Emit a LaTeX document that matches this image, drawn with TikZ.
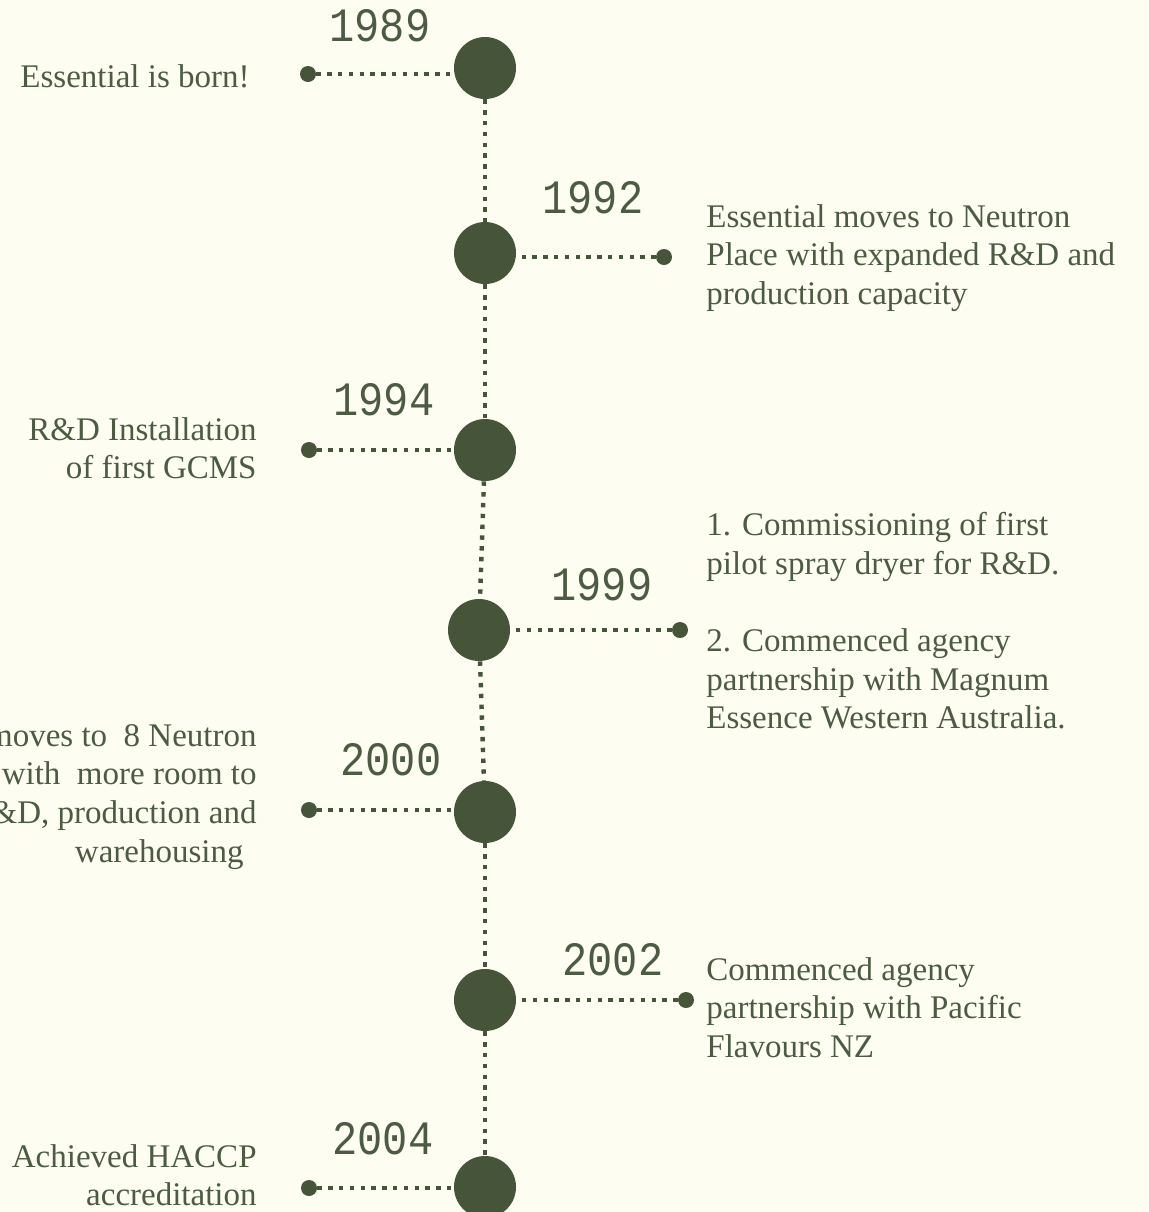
\documentclass[tikz,border=0pt]{standalone}
\usepackage{fontspec}
\setmainfont{Liberation Serif}
\setmonofont{Liberation Mono}

\definecolor{cream}{HTML}{FDFDF2}
\definecolor{olive}{HTML}{46543A}
\definecolor{inkgreen}{HTML}{4C5B42}

\newcommand{\yearnum}[1]{\scalebox{1}[1.14]{#1}}

\tikzset{
  milestone/.style={circle, fill=olive, minimum size=31pt, inner sep=0pt},
  tipdot/.style={circle, fill=olive, minimum size=8pt, inner sep=0pt},
  year/.style={font=\ttfamily\fontsize{21pt}{21pt}\selectfont, text=inkgreen, inner sep=0pt},
  note/.style={font=\fontsize{16.5pt}{19.3pt}\selectfont, text=inkgreen, inner sep=0pt},
  dotline/.style={olive, line width=2.2pt, dash pattern=on 2.2pt off 3.2pt},
}

\begin{document}
\begin{tikzpicture}[x=0.5pt, y=-0.5pt]

            \useasboundingbox (0,0) rectangle (1148,1212);
            \fill[cream] (0,0) rectangle (1148,1212);
            \clip (0,0) rectangle (1148,1212);

            % Milestones
            \node (c1) [milestone] at (485,68) {};
            \node (c2) [milestone] at (485,253) {};
            \node (c3) [milestone] at (485,450) {};
            \node (c4) [milestone] at (479,630) {};
            \node (c5) [milestone] at (485,812) {};
            \node (c6) [milestone] at (485,1000) {};
            \node (c7) [milestone] at (485,1187) {};

            % Years
            \node (y1) [year] at (380,26) {\yearnum{1989}};
            \node (y2) [year] at (593,198) {\yearnum{1992}};
            \node (y3) [year] at (384,400) {\yearnum{1994}};
            \node (y4) [year] at (602,585) {\yearnum{1999}};
            \node (y5) [year] at (391,760) {\yearnum{2000}};
            \node (y6) [year] at (613,960) {\yearnum{2002}};
            \node (y7) [year] at (383,1139) {\yearnum{2004}};

            % End dots
            \node (d1) [tipdot] at (308,74) {};
            \node (d2) [tipdot] at (664,257) {};
            \node (d3) [tipdot] at (309,450) {};
            \node (d4) [tipdot] at (680,630) {};
            \node (d5) [tipdot] at (309,810) {};
            \node (d6) [tipdot] at (686,1000) {};
            \node (d7) [tipdot] at (309,1188) {};

            % Notes
            \node (n1) [note, anchor=north east, align=right] at (250,64) {Essential is born!};
            \node (n2) [note, anchor=north west, align=left] at (706,204)
              {Essential moves to Neutron\\Place with expanded R\&D and\\production capacity};
            \node (n3) [note, anchor=north east, align=right] at (257,417)
              {R\&D Installation\\of first GCMS};
            \node (n4) [note, anchor=north west, align=left] at (706,512)
              {1. Commissioning of first\\pilot spray dryer for R\&D.\\[19.3pt]2. Commenced agency\\partnership with Magnum\\Essence Western Australia.};
            \node (n5) [note, anchor=north east, align=right] at (257,723)
              {Essential moves to\ \ 8 Neutron\\Place with\ \ more room to\\R\&D, production and\\warehousing\hspace*{6.5pt}};
            \node (n6) [note, anchor=north west, align=left] at (706,957)
              {Commenced agency\\partnership with Pacific\\Flavours NZ};
            \node (n7) [note, anchor=north east, align=right] at (257,1144)
              {Achieved HACCP\\accreditation};

            % Timeline
            \draw[dotline] (c1) -- (c2);
            \draw[dotline] (c2) -- (c3);
            \draw[dotline] (c3) -- (c4);
            \draw[dotline] (c4) -- (c5);
            \draw[dotline] (c5) -- (c6);
            \draw[dotline] (c6) -- (c7);

            % Leaders
            \draw[dotline] (d1) -- (d1 -| c1.west);
            \draw[dotline] (d2) -- (d2 -| c2.east);
            \draw[dotline] (d3) -- (d3 -| c3.west);
            \draw[dotline] (d4) -- (d4 -| c4.east);
            \draw[dotline] (d5) -- (d5 -| c5.west);
            \draw[dotline] (d6) -- (d6 -| c6.east);
            \draw[dotline] (d7) -- (d7 -| c7.west);

\end{tikzpicture}
\end{document}
